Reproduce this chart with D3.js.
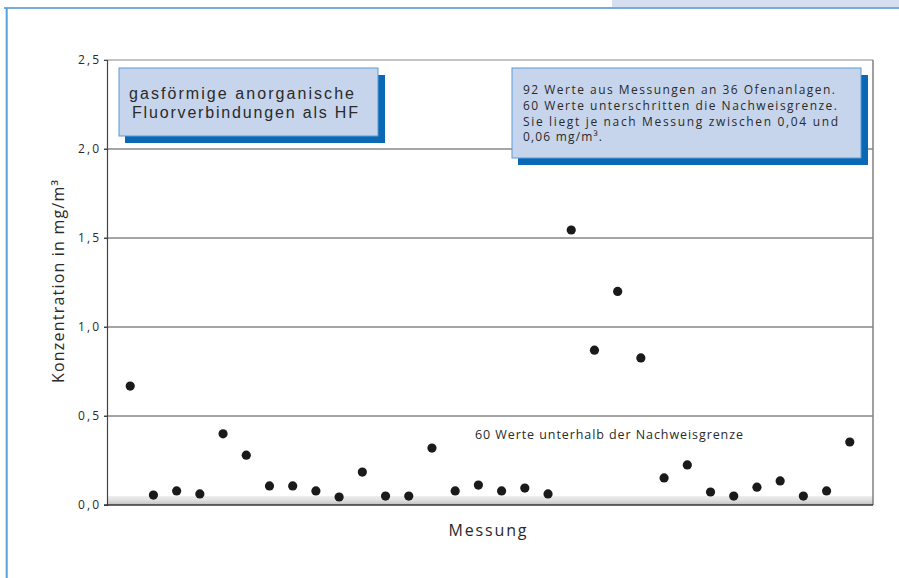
<!DOCTYPE html>
<html>
<head>
<meta charset="utf-8">
<script src="https://cdn.jsdelivr.net/npm/d3@7"></script>
<style>
  html, body { margin: 0; padding: 0; background: #fff; }
  svg { display: block; }
  text { font-family: "Open Sans", "Liberation Sans", sans-serif; fill: #2a2a2a; }
</style>
</head>
<body>
<svg id="chart" width="899" height="578"></svg>
<script>
// ---- data ----
const measurements = d3.range(1, 33); // 32 values above detection limit
const values = [0.668, 0.056, 0.079, 0.062, 0.40, 0.28, 0.107, 0.107, 0.079, 0.045,
                0.185, 0.05, 0.05, 0.32, 0.079, 0.112, 0.079, 0.095, 0.062, 1.545,
                0.87, 1.20, 0.826, 0.152, 0.225, 0.073, 0.05, 0.10, 0.135, 0.05,
                0.079, 0.354];
const tickValues = [0, 0.5, 1.0, 1.5, 2.0, 2.5];
const tickLabels = ["0,0", "0,5", "1,0", "1,5", "2,0", "2,5"];
const detectionLimit = 0.05;
const yTitle = "Konzentration in mg/m³";
const xTitle = "Messung";
const box1Lines = ["gasförmige anorganische", "Fluorverbindungen als HF"];
const box2Lines = ["92 Werte aus Messungen an 36 Ofenanlagen.",
                   "60 Werte unterschritten  die Nachweisgrenze.",
                   "Sie liegt je nach Messung zwischen 0,04 und",
                   "0,06 mg/m³."];
const belowLabel = "60 Werte unterhalb der Nachweisgrenze";

// ---- layout ----
const svg = d3.select("#chart");
const pLeft = 107, pRight = 873, pTop = 60, pBottom = 505;

const x = d3.scalePoint().domain(measurements).range([pLeft, pRight]).padding(1);
const y = d3.scaleLinear().domain([0, 2.5]).range([pBottom, pTop]);

// frame
svg.append("rect").attr("x", 612).attr("y", 0).attr("width", 287).attr("height", 7).attr("fill", "#d5dff0");
svg.append("line").attr("x1", 4).attr("x2", 899).attr("y1", 8).attr("y2", 8)
   .attr("stroke", "#4a92d2").attr("stroke-width", 1.6);
svg.append("line").attr("x1", 6.7).attr("x2", 6.7).attr("y1", 8).attr("y2", 578)
   .attr("stroke", "#58a0d8").attr("stroke-width", 2);

// detection limit band
const defs = svg.append("defs");
const grad = defs.append("linearGradient").attr("id", "band").attr("x1", 0).attr("y1", 0).attr("x2", 0).attr("y2", 1);
grad.append("stop").attr("offset", "0%").attr("stop-color", "#ededed");
grad.append("stop").attr("offset", "45%").attr("stop-color", "#e0e0e0");
grad.append("stop").attr("offset", "70%").attr("stop-color", "#d2d2d2");
grad.append("stop").attr("offset", "100%").attr("stop-color", "#bdbdbd");
svg.append("rect").attr("x", pLeft).attr("y", y(detectionLimit))
   .attr("width", pRight - pLeft).attr("height", y(0) - y(detectionLimit))
   .attr("fill", "url(#band)");

// gridlines
svg.append("g").selectAll("line").data(tickValues.filter(d => d > 0)).join("line")
   .attr("x1", pLeft - 3).attr("x2", pRight)
   .attr("y1", d => y(d)).attr("y2", d => y(d))
   .attr("stroke", d => d === 2.5 ? "#b0b0b0" : "#4a4a4a")
   .attr("stroke-width", d => d === 2.5 ? 1.5 : 1);

// right border
svg.append("line").attr("x1", pRight).attr("x2", pRight).attr("y1", pTop).attr("y2", pBottom)
   .attr("stroke", "#808080").attr("stroke-width", 1.5);

// y axis
const yAxis = d3.axisLeft(y).tickValues(tickValues)
  .tickFormat((d, i) => tickLabels[i]).tickSize(3).tickPadding(5);
const ga = svg.append("g").attr("transform", `translate(${pLeft},0)`).call(yAxis);
ga.select(".domain").attr("stroke", "#444").attr("stroke-width", 1.2);
ga.selectAll(".tick line").attr("stroke", "#444");
ga.selectAll(".tick text").attr("font-size", 12).attr("fill", "#333")
  .style("font-family", "'Open Sans', sans-serif").attr("textLength", 21).attr("lengthAdjust", "spacing");

// x axis baseline
svg.append("line").attr("x1", pLeft - 3).attr("x2", pRight).attr("y1", y(0)).attr("y2", y(0))
   .attr("stroke", "#333").attr("stroke-width", 1.5);

// boxes
function box(x0, y0, w, h) {
  svg.append("rect").attr("x", x0 + 6).attr("y", y0 + 7).attr("width", w + 1).attr("height", h)
     .attr("fill", "#0a68b4");
  svg.append("rect").attr("x", x0).attr("y", y0).attr("width", w).attr("height", h)
     .attr("fill", "#c6d5ec").attr("stroke", "#5a9ad8").attr("stroke-width", 1);
}
box(119, 68, 259, 68);
box(512, 68, 349, 90);

const b1 = [{x: 129, y: 99, w: 225}, {x: 132, y: 118, w: 226}];
box1Lines.forEach((t, i) => {
  svg.append("text").attr("x", b1[i].x).attr("y", b1[i].y).attr("font-size", 16)
     .style("font-family", "'Liberation Sans', Arial, sans-serif")
     .attr("fill", "#333").attr("textLength", b1[i].w).attr("lengthAdjust", "spacing").text(t);
});
const b2 = [{y: 94, w: 312}, {y: 110, w: 314}, {y: 125.5, w: 315}, {y: 141, w: 79}];
box2Lines.forEach((t, i) => {
  svg.append("text").attr("x", 523).attr("y", b2[i].y).attr("font-size", 12)
     .attr("fill", "#222").attr("textLength", b2[i].w).attr("lengthAdjust", "spacing").text(t);
});

// label below limit
svg.append("text").attr("x", 475).attr("y", 439).attr("font-size", 12.5).attr("fill", "#222")
   .attr("textLength", 268).attr("lengthAdjust", "spacing").text(belowLabel);

// points
svg.append("g").selectAll("circle").data(values).join("circle")
   .attr("cx", (d, i) => x(measurements[i])).attr("cy", d => y(d))
   .attr("r", 4.6).attr("fill", "#1a1a1a");

// titles
svg.append("text").attr("transform", "translate(64,281.5) rotate(-90)")
   .attr("text-anchor", "middle").attr("font-size", 16).attr("fill", "#333")
   .attr("textLength", 203).attr("lengthAdjust", "spacing").text(yTitle);
svg.append("text").attr("x", 487.5).attr("y", 536).attr("text-anchor", "middle")
   .attr("font-size", 16).attr("fill", "#333")
   .attr("textLength", 78).attr("lengthAdjust", "spacing").text(xTitle);
</script>
</body>
</html>
